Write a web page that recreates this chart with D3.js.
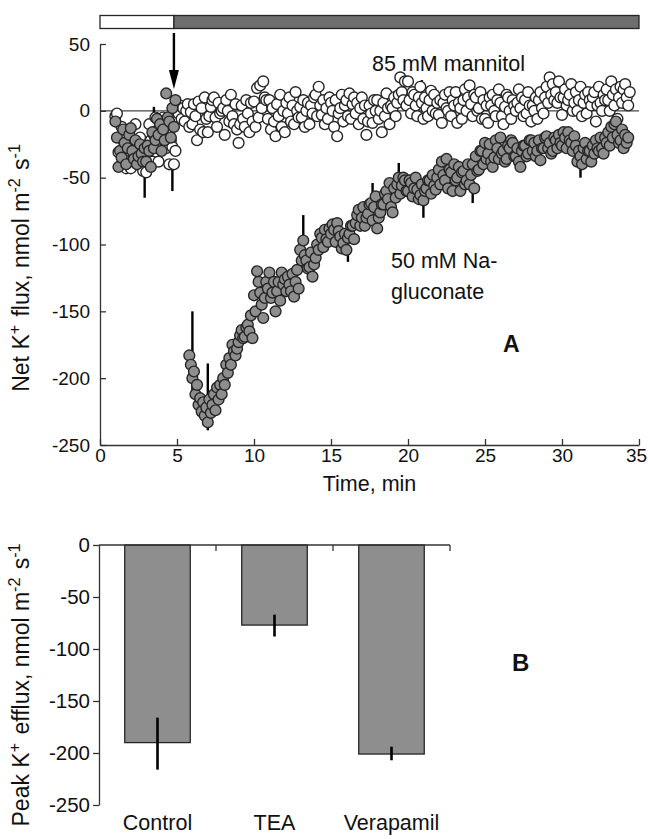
<!DOCTYPE html>
<html><head><meta charset="utf-8">
<script src="https://cdn.jsdelivr.net/npm/d3@7"></script>
<style>
body{margin:0;background:#fff}
svg{display:block}
text{font-family:"Liberation Sans",Arial,Helvetica,sans-serif;fill:#111}
</style>
</head><body>
<svg id="chart" width="648" height="839"></svg>
<script>
// ---------------- DATA ----------------
// Panel A: readings every 0.1 min starting at 1.0 min (null = no reading)
const sampleStart = 1.0;
const sampleStep = 0.1;
// 50 mM Na-gluconate (grey circles), one row per minute (1.0-1.9, 2.0-2.9, ...)
const gluconateFlux = [
-8,-20,-42,-30,-35,-14,-24,-40,-28,-18,
-13,-30,-36,-22,-40,-34,-25,-32,-38,-28,
-38,-26,-30,-42,-16,-28,-22,-6,-18,-10,
-30,-14,-22,13,-5,-8,-20,2,-12,8,
null,null,null,null,null,null,null,null,-183,-190,
-200,-195,-212,-205,-220,-215,-225,-218,-228,-222,
-233,-216,-226,-220,-212,-224,-207,-216,-205,-212,
-200,-205,-190,-196,-185,-190,-175,-180,-183,-178,
-173,-168,-164,-170,-169,-162,-160,-165,-153,-170,
-138,-150,-120,-128,-136,-145,-155,-140,-128,-133,
-121,-140,-136,-128,-150,-135,-128,-142,-121,-130,
-126,-135,-124,-130,-135,-122,-139,-128,-119,-133,
-104,-112,-97,-108,-112,-118,-117,-106,-124,-115,
-110,-100,-104,-92,-95,-102,-89,-96,-98,-88,
-92,-85,-89,-98,-84,-90,-94,-103,-99,-92,
-104,-95,-92,-86,-86,-96,-84,-78,-74,-86,
-80,-72,-86,-80,-77,-70,-69,-82,-72,-64,
-88,-80,-76,-70,-70,-62,-60,-66,-54,-72,
-76,-58,-65,-55,-50,-62,-56,-50,-52,-60,
-60,-52,-54,-64,-58,-50,-59,-66,-63,-55,
-67,-60,-58,-52,-52,-62,-48,-56,-59,-50,
-44,-55,-38,-48,-52,-36,-58,-44,-46,-60,
-40,-52,-50,-42,-60,-46,-45,-55,-52,-40,
-55,-48,-40,-58,-34,-45,-44,-30,-30,-40,
-24,-36,-32,-25,-38,-42,-35,-22,-28,-36,
-20,-32,-30,-38,-36,-26,-28,-22,-24,-34,
-34,-28,-38,-42,-30,-26,-26,-34,-32,-22,
-22,-30,-24,-34,-30,-22,-37,-28,-28,-20,
-19,-28,-24,-32,-30,-20,-22,-28,-18,-24,
-26,-16,-20,-28,-16,-22,-24,-30,-19,-26,
-38,-30,-34,-40,-28,-24,-36,-30,-30,-38,
-26,-32,-22,-28,-30,-20,-28,-32,-20,-24,
-16,-26,-12,-20,-10,-8,-18,-24,-22,-14,
-28,-18,-24,-20
];
// 85 mM mannitol (open circles), same sampling
const mannitolFlux = [
-4,-2,-31,-20,-12,-38,-25,-43,-15,-30,
-43,-25,-33,-10,-37,-28,-20,-38,-45,-28,
-46,-35,-10,-22,-38,-18,-5,-28,-38,-20,
-15,-5,-20,-28,-10,-40,-22,-27,-40,-30,
null,-2,4,-6,2,-8,0,5,-12,-1,
-10,5,-4,-22,7,-14,2,-16,10,-6,
-16,-4,3,8,10,-5,-12,6,-2,0,
2,-18,8,0,-8,12,-4,-10,5,-14,
-24,-10,4,-6,-12,8,-2,-16,6,-8,
7,-12,17,-5,19,2,22,10,8,-6,
8,-14,2,-8,-19,5,-4,12,-12,0,
-16,6,-2,10,-8,4,-10,14,0,-5,
3,-5,8,-12,0,6,-10,4,-2,10,
12,-4,18,4,-3,8,-10,2,-6,10,
6,0,-12,8,-19,-2,2,12,-8,4,
8,-4,13,-6,5,10,-2,6,-10,2,
10,-6,4,-18,-8,4,-2,-9,8,0,
8,-6,0,-16,6,-4,13,2,-10,4,
2,10,-4,6,12,25,14,8,22,4,
22,8,-2,14,12,4,-4,10,18,6,
-6,10,2,-4,8,15,0,12,-2,6,
-3,8,-9,6,12,2,0,14,-4,8,
4,14,-9,6,2,-6,8,16,0,10,
19,5,-4,12,10,0,2,14,-6,8,
-6,4,-9,10,4,12,0,-4,8,16,
6,-4,-10,3,12,10,0,-6,8,4,
0,6,16,2,10,-4,8,-2,14,4,
-8,4,0,10,-6,8,14,2,-2,10,
18,6,25,12,20,8,14,6,22,10,
-3,10,16,4,8,12,20,0,6,14,
0,8,18,-4,6,12,-2,14,8,4,
10,14,-8,4,18,6,0,12,8,16,
8,0,22,12,4,16,-6,10,18,6,
16,20,10,4,14
];
// Error bars (time, lower, upper)
const gluconateErrTime = [6.0, 7.0, 13.2, 16.1, 17.7, 19.4, 21.0, 24.2, 31.2, 32.7];
const gluconateErrLow  = [-210, -239, -112, -113, -64, -48, -80, -69, -50, -32];
const gluconateErrHigh = [-150, -189, -78, -95, -54, -39, -65, -55, -38, -26];
const mannitolErrTime = [2.9, 4.7, 3.5, 6.3, 14.8, 20.9, 21.2];
const mannitolErrLow  = [-65, -60, -5, 2, -13, 12, -5];
const mannitolErrHigh = [-44, -39, 3, 10, -5, 23, 0];
const treatmentTime = 4.8;
const xTicksA = [0,5,10,15,20,25,30,35];
const yTicksA = [-250,-200,-150,-100,-50,0,50];

// Panel B
const treatments = ["Control","TEA","Verapamil"];
const peakEfflux = [-190, -77, -201];
const peakErrLow = [-216, -88, -207];
const peakErrHigh = [-166, -67, -194];
const yTicksB = [-250,-200,-150,-100,-50,0];

// ---------------- DRAW ----------------
const svg = d3.select("#chart");
const GREY = "#8e8e8e", STROKE = "#262626";
const fmt = d => String(d);
const FONT = '"Liberation Sans",Arial,sans-serif';

// ===== Panel A =====
const xA = d3.scaleLinear().domain([0,35]).range([100,639]);
const yA = d3.scaleLinear().domain([-250,50]).range([445,44]);
const toPts = vals => vals.map((v,i)=>[sampleStart + i*sampleStep, v]).filter(d=>d[1]!==null);

// treatment bar
const barG = svg.append("g");
barG.append("rect").attr("x", xA(0)).attr("y",15.5).attr("width", xA(treatmentTime)-xA(0)).attr("height",13)
  .attr("fill","#fff").attr("stroke",STROKE).attr("stroke-width",1.3);
barG.append("rect").attr("x", xA(treatmentTime)).attr("y",15.5).attr("width", xA(35)-xA(treatmentTime)).attr("height",13)
  .attr("fill","#6e6e6e").attr("stroke",STROKE).attr("stroke-width",1.3);

// arrow
svg.append("line").attr("x1",xA(treatmentTime)).attr("x2",xA(treatmentTime)).attr("y1",33).attr("y2",74)
  .attr("stroke","#000").attr("stroke-width",2.4);
svg.append("path").attr("d",`M${xA(treatmentTime)-5},70 L${xA(treatmentTime)+5},70 L${xA(treatmentTime)},89 Z`).attr("fill","#000");

// zero line
svg.append("line").attr("x1",xA(0)).attr("x2",xA(35)).attr("y1",yA(0)).attr("y2",yA(0))
  .attr("stroke","#444").attr("stroke-width",1.2);

// axes
const axL = svg.append("g").attr("transform",`translate(${xA(0)},0)`)
  .call(d3.axisLeft(yA).tickValues(yTicksA).tickFormat(fmt).tickSizeInner(-6).tickSizeOuter(0).tickPadding(10));
const axB = svg.append("g").attr("transform",`translate(0,${yA(-250)})`)
  .call(d3.axisBottom(xA).tickValues(xTicksA).tickFormat(fmt).tickSizeInner(-6).tickSizeOuter(0).tickPadding(3));
[axL, axB].forEach(a => {
  a.selectAll("path,line").attr("stroke","#333").attr("stroke-width",1.3);
  a.selectAll("text").attr("font-size",19).attr("fill","#111").attr("font-family",FONT);
});
axB.selectAll(".tick text").filter(d => d === 35).attr("dx",-3);

// error bars
function errBars(times, lo, hi) {
  svg.append("g").selectAll("line").data(times).join("line")
    .attr("x1",(d)=>xA(d)).attr("x2",(d)=>xA(d))
    .attr("y1",(d,i)=>yA(lo[i])).attr("y2",(d,i)=>yA(hi[i]))
    .attr("stroke","#000").attr("stroke-width",2.4);
}
errBars(mannitolErrTime, mannitolErrLow, mannitolErrHigh);
errBars(gluconateErrTime, gluconateErrLow, gluconateErrHigh);

// points
svg.append("g").selectAll("circle").data(toPts(mannitolFlux)).join("circle")
  .attr("cx",d=>xA(d[0])).attr("cy",d=>yA(d[1])).attr("r",5.4)
  .attr("fill","#fff").attr("stroke",STROKE).attr("stroke-width",1.4);
svg.append("g").selectAll("circle").data(toPts(gluconateFlux)).join("circle")
  .attr("cx",d=>xA(d[0])).attr("cy",d=>yA(d[1])).attr("r",5.4)
  .attr("fill",GREY).attr("stroke",STROKE).attr("stroke-width",1.4);

// annotations
svg.append("text").attr("x",372).attr("y",71).attr("font-size",21.5).text("85 mM mannitol");
svg.append("text").attr("x",391).attr("y",268).attr("font-size",21.5).text("50 mM Na-");
svg.append("text").attr("x",391).attr("y",299).attr("font-size",21.5).text("gluconate");
svg.append("text").attr("x",503).attr("y",352).attr("font-size",23).attr("font-weight","bold").text("A");

// axis titles
svg.append("text").attr("x",xA(17.5)).attr("y",491).attr("text-anchor","middle").attr("font-size",21.5).text("Time, min");

function supLabel(x, y, parts, size) {
  const t = svg.append("text").attr("transform",`translate(${x},${y}) rotate(-90)`)
    .attr("text-anchor","middle").attr("font-size",size);
  parts.forEach(p => {
    if (p.sup) {
      t.append("tspan").attr("dy",-size*0.38).attr("font-size",size*0.7).text(p.s);
      t.append("tspan").attr("dy",size*0.38).text("\u200A");
    } else t.append("tspan").text(p.s);
  });
}
supLabel(29, 267, [{s:"Net K"},{s:"+",sup:1},{s:" flux, nmol m"},{s:"-2",sup:1},{s:" s"},{s:"-1",sup:1}], 23);

// ===== Panel B =====
const xB = d3.scaleBand().domain(treatments).range([99,450]).padding(0);
const yB = d3.scaleLinear().domain([-250,0]).range([805,545]);
const bw = xB.bandwidth()*0.56;

svg.append("g").selectAll("rect").data(treatments).join("rect")
  .attr("x",d=>xB(d)+xB.bandwidth()/2-bw/2).attr("width",bw)
  .attr("y",yB(0)).attr("height",(d,i)=>yB(peakEfflux[i])-yB(0))
  .attr("fill",GREY).attr("stroke",STROKE).attr("stroke-width",1.3);
svg.append("g").selectAll("line").data(treatments).join("line")
  .attr("x1",d=>xB(d)+xB.bandwidth()/2).attr("x2",d=>xB(d)+xB.bandwidth()/2)
  .attr("y1",(d,i)=>yB(peakErrLow[i])).attr("y2",(d,i)=>yB(peakErrHigh[i]))
  .attr("stroke","#000").attr("stroke-width",2.6);

const axLB = svg.append("g").attr("transform",`translate(99,0)`)
  .call(d3.axisLeft(yB).tickValues(yTicksB).tickFormat(fmt).tickSizeInner(6).tickSizeOuter(0).tickPadding(3));
axLB.selectAll("path,line").attr("stroke","#333").attr("stroke-width",1.3);
axLB.selectAll("text").attr("font-size",20.5).attr("fill","#111").attr("font-family",FONT);
// top category axis (ticks at band boundaries)
const topAx = svg.append("g");
topAx.append("line").attr("x1",99).attr("x2",450).attr("y1",yB(0)).attr("y2",yB(0)).attr("stroke","#333").attr("stroke-width",1.3);
topAx.selectAll("line.t").data(treatments).join("line").attr("class","t")
  .attr("x1",d=>xB(d)+xB.bandwidth()).attr("x2",d=>xB(d)+xB.bandwidth())
  .attr("y1",yB(0)).attr("y2",yB(0)+6).attr("stroke","#333").attr("stroke-width",1.3);
svg.append("g").selectAll("text").data(treatments).join("text")
  .attr("x",d=>xB(d)+xB.bandwidth()/2).attr("y",830).attr("text-anchor","middle").attr("font-size",21.5).text(d=>d);

svg.append("text").attr("x",512).attr("y",671).attr("font-size",24).attr("font-weight","bold").text("B");
supLabel(29, 684, [{s:"Peak K"},{s:"+",sup:1},{s:" efflux, nmol m"},{s:"-2",sup:1},{s:" s"},{s:"-1",sup:1}], 23);
</script>
</body></html>
